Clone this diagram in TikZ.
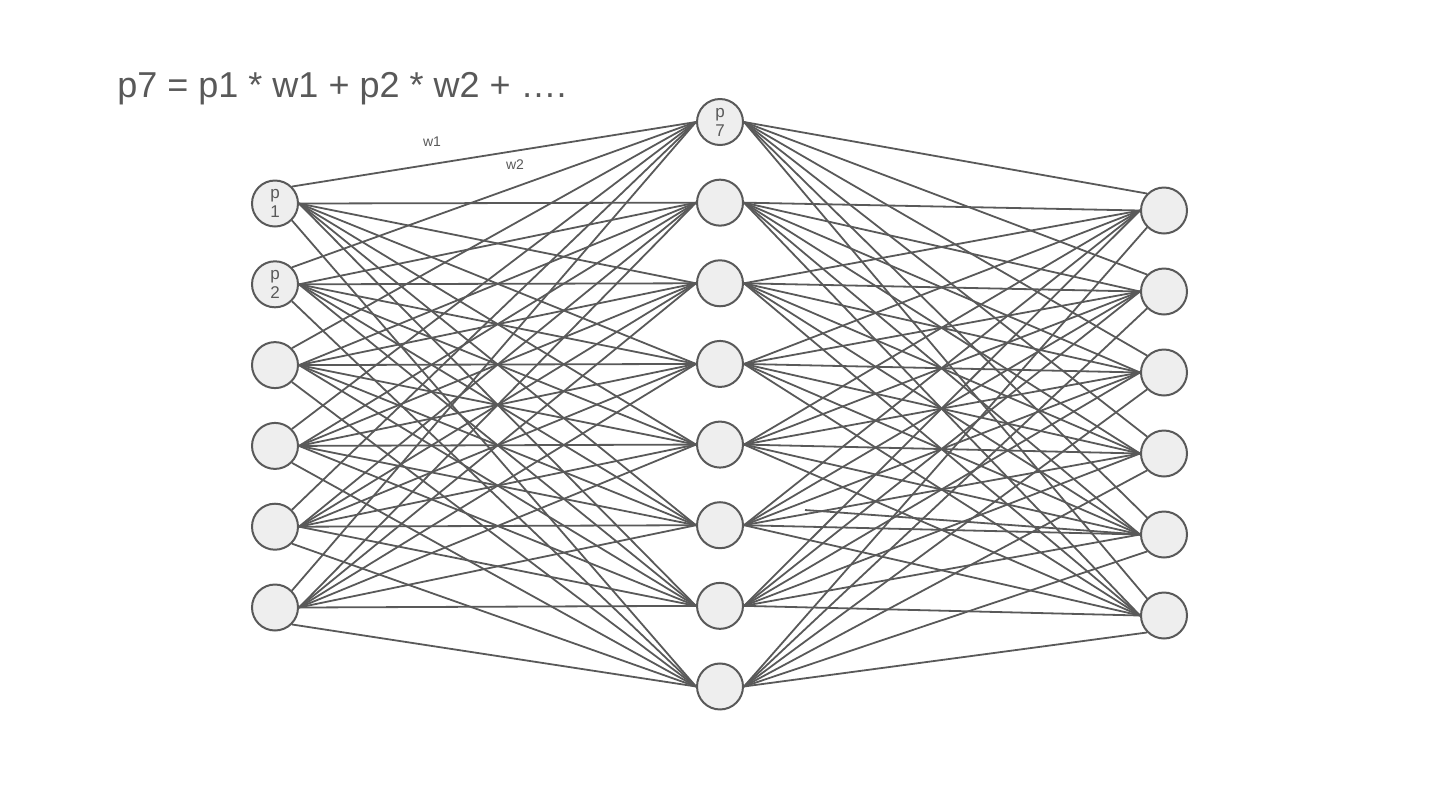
\documentclass[tikz,border=0pt]{standalone}
\usepackage{fontspec}
\setmainfont{Liberation Sans}
\definecolor{linegray}{HTML}{595959}
\definecolor{nodefill}{HTML}{EEEEEE}
\tikzset{
  neuron/.style={circle, draw=linegray, fill=nodefill, line width=1pt, minimum size=23pt, inner sep=0pt, align=center, text=linegray, font=\fontsize{8.5}{9.5}\selectfont},
  edge/.style={linegray, line width=0.9pt},
  wlabel/.style={text=linegray, font=\fontsize{7}{8}\selectfont}
}

\begin{document}
\begin{tikzpicture}[x=0.5pt, y=-0.5pt]
  \useasboundingbox (0,0) rectangle (1440,810);
  % formula
  \node[anchor=base west, text=linegray, font=\fontsize{18}{20}\selectfont, inner sep=0pt] (formula) at (117,97) {p7 = p1 * w1 + p2 * w2 + \dots.};
  % input layer
  \node[neuron] (l1) at (275,203.5) {p\\1};
  \node[neuron] (l2) at (275,284.3) {p\\2};
  \foreach \i in {3,...,6}
    \node[neuron] (l\i) at (275,{203.5+80.8*(\i-1)}) {};
  % hidden layer
  \node[neuron] (m1) at (720,122) {p\\7};
  \foreach \i in {2,...,8}
    \node[neuron] (m\i) at (720,{122+80.64*(\i-1)}) {};
  % output layer
  \foreach \i in {1,...,6}
    \node[neuron] (r\i) at (1164,{210.5+81*(\i-1)}) {};
  % connections
  \foreach \i in {1,...,6}{
    \draw[edge] (l\i.north east) -- (m1.west);
    \foreach \j in {2,...,7}
      \draw[edge] (l\i.east) -- (m\j.west);
    \draw[edge] (l\i.south east) -- (m8.west);
  }
  \foreach \k in {1,...,6}{
    \draw[edge] (m1.east) -- (r\k.north west);
    \foreach \j in {2,...,7}
      \draw[edge] (m\j.east) -- (r\k.west);
    \draw[edge] (m8.east) -- (r\k.south west);
  }
  \coordinate (loose) at (805,510);
  \draw[edge] (loose) -- (r5.west);
  % weights
  \node[wlabel] (w1) at (432,142) {w1};
  \node[wlabel] (w2) at (515,165) {w2};
\end{tikzpicture}
\end{document}
